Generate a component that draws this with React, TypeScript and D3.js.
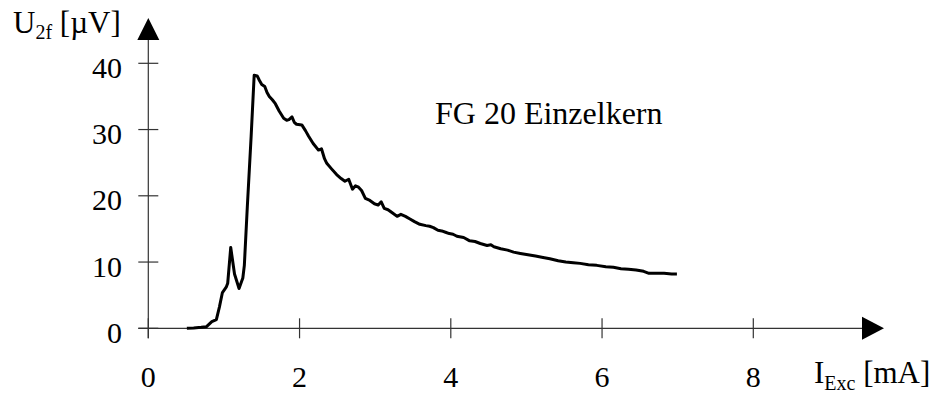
import * as d3 from 'd3';

// I_Exc [mA] vs U_2f [µV]
const current = [
  0.51, 0.6, 0.7, 0.77, 0.84, 0.9, 0.94, 0.98, 1.03, 1.05, 1.09, 1.14, 1.2, 1.25, 1.27, 1.31, 1.36, 1.4,
  1.44, 1.47, 1.5, 1.54, 1.57, 1.6, 1.64, 1.68, 1.73, 1.79, 1.83, 1.86, 1.9, 1.93, 1.96, 2.03, 2.08,
  2.12, 2.18, 2.25, 2.29, 2.33, 2.36, 2.42, 2.49, 2.55, 2.6, 2.65, 2.7, 2.74, 2.78, 2.82, 2.87, 2.93,
  2.99, 3.04, 3.08, 3.12, 3.17, 3.23, 3.29, 3.34, 3.4, 3.46, 3.52, 3.59, 3.67, 3.72, 3.77, 3.83, 3.88,
  3.93, 3.98, 4.03, 4.08, 4.17, 4.25, 4.32, 4.39, 4.48, 4.53, 4.57, 4.66, 4.75, 4.83, 4.92, 5.02, 5.12,
  5.22, 5.31, 5.42, 5.52, 5.62, 5.71, 5.82, 5.93, 6.05, 6.15, 6.25, 6.35, 6.45, 6.55, 6.62, 6.72, 6.82,
  6.92, 6.99,
];
const voltage = [
  0, 0.05, 0.15, 0.25, 1.0, 1.3, 3.2, 5.4, 6.2, 6.8, 12.2, 8.2, 6.0, 7.6, 9.5, 18.5, 29, 38.2,
  38.1, 37.4, 36.8, 36.5, 35.6, 35.0, 34.5, 33.9, 32.8, 31.7, 31.4, 31.5, 31.9, 31.1, 30.8, 30.7, 29.8,
  29.0, 27.9, 26.9, 27.1, 25.6, 24.9, 24.1, 23.2, 22.6, 22.2, 22.5, 21.0, 21.5, 21.3, 20.8, 19.6, 19.3,
  18.8, 18.6, 19.1, 18.1, 17.9, 17.4, 16.9, 17.2, 16.9, 16.5, 16.1, 15.7, 15.5, 15.4, 15.2, 14.8, 14.7,
  14.5, 14.3, 14.2, 13.9, 13.7, 13.2, 13.1, 12.8, 12.5, 12.6, 12.3, 12.0, 11.8, 11.5, 11.3, 11.1, 10.9,
  10.7, 10.5, 10.2, 10.0, 9.9, 9.8, 9.6, 9.5, 9.3, 9.2, 9.0, 8.9, 8.8, 8.6, 8.3, 8.3, 8.3,
  8.2, 8.2,
];
const xTicks = [0, 2, 4, 6, 8];
const yTicks = [0, 10, 20, 30, 40];
const curveLabel = 'FG 20 Einzelkern';

const font = "'Liberation Serif', 'Times New Roman', serif";

export default function App() {
  const x = d3.scaleLinear().domain([0, 8]).range([148.3, 753.3]);
  const y = d3.scaleLinear().domain([0, 40]).range([328.3, 63.3]);

  const points = current.map((c, i) => ({ c, v: voltage[i] }));
  const line = d3
    .line<{ c: number; v: number }>()
    .x((d) => x(d.c))
    .y((d) => y(d.v));

  const x0 = x(0);
  const y0 = y(0);
  const txt = { fontFamily: font };

  return (
    <svg
      width={937}
      height={394}
      style={{ position: 'absolute', left: 0, top: 0, background: '#fff', fontFamily: font }}
    >
      {/* axes */}
      <line x1={x0} y1={y0 + 10} x2={x0} y2={39} stroke="#333" strokeWidth={1.2} />
      <line x1={x0 - 10} y1={y0} x2={862} y2={y0} stroke="#333" strokeWidth={1.2} />
      <polygon points={`${x0},18 ${x0 - 11},40 ${x0 + 11},40`} fill="#000" />
      <polygon points={`884,${y0} 862,${y0 - 11.5} 862,${y0 + 11.5}`} fill="#000" />

      {yTicks.map((t) => (
        <g key={'y' + t}>
          <line x1={x0 - 10} x2={x0 + 10} y1={y(t)} y2={y(t)} stroke="#333" strokeWidth={1.2} />
          <text x={122} y={y(t) + 14.6} fontSize={30} textAnchor="end" style={txt}>
            {t}
          </text>
        </g>
      ))}
      {xTicks.map((t) => (
        <g key={'x' + t}>
          <line x1={x(t)} x2={x(t)} y1={y0 - 10} y2={y0 + 10} stroke="#333" strokeWidth={1.2} />
          <text x={x(t)} y={387} fontSize={30} textAnchor="middle" style={txt}>
            {t}
          </text>
        </g>
      ))}

      {/* axis titles */}
      <text x={13} y={33} fontSize={31} style={txt}>
        U<tspan fontSize={20} dy={6}>2f</tspan>
        <tspan dy={-6}> [µV]</tspan>
      </text>
      <text x={814} y={383} fontSize={31} style={txt}>
        I<tspan fontSize={20} dy={7}>Exc</tspan>
        <tspan dy={-7}> [mA]</tspan>
      </text>

      <path d={line(points) ?? ''} fill="none" stroke="#000" strokeWidth={3} strokeLinejoin="round" />

      <text x={435} y={124} fontSize={32} style={txt}>
        {curveLabel}
      </text>
    </svg>
  );
}
